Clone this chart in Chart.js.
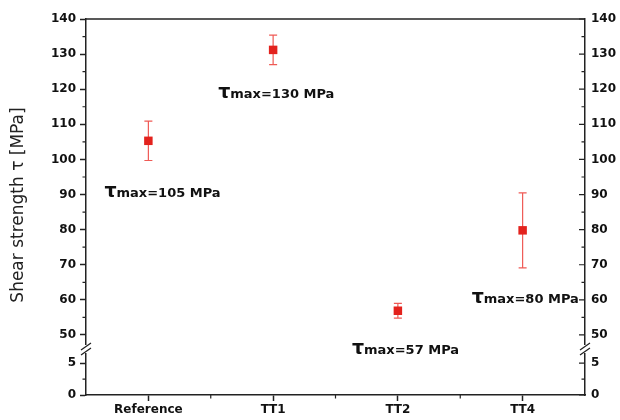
<!DOCTYPE html>
<html>
<head>
<meta charset="utf-8">
<script src="https://cdn.jsdelivr.net/npm/chart.js@4.4.1/dist/chart.umd.min.js"></script>
<style>
  body { margin: 0; background: #fff; }
  #wrap { width: 620px; height: 420px; }
</style>
</head>
<body>
<div id="wrap"><canvas id="shearChart"></canvas></div>
<script>
// values
const samples = ["Reference", "TT1", "TT2", "TT4"];
const shearMean = [105.3, 131.2, 56.9, 79.8];
const shearErr = [5.6, 4.2, 2.1, 10.7];
const tauMax = [105, 130, 57, 80];

// broken axis: lower part 0..7.2, upper part 46..140
const upperTicks = [50, 60, 70, 80, 90, 100, 110, 120, 130, 140];
const upperMinor = [55, 65, 75, 85, 95, 105, 115, 125, 135];
const lowerTicks = [0, 5];
const lowerMinor = [2.5];

// where the tau labels sit (px offset from category, value on upper axis)
const labelSpots = [
  { dx: -44, v: 90.7 },
  { dx: -55, v: 118.9 },
  { dx: -46, v: 46 },
  { dx: -51, v: 60.5 }
];

const AXIS = "#222";
const TXT = "#111";
const tickFont = { family: "DejaVu Sans", size: 12, weight: "bold" };

function setTicks(list) {
  return scale => { scale.ticks = list.map(v => ({ value: v })); };
}

function leftAxis(min, max, ticks, weight) {
  return {
    type: "linear", position: "left", stack: "left", stackWeight: weight,
    min: min, max: max,
    afterBuildTicks: setTicks(ticks),
    afterFit: s => { s.width = 86; },
    border: { display: true, color: AXIS, width: 1.5 },
    grid: { drawOnChartArea: false, tickLength: 6, color: AXIS, tickWidth: 1.5 },
    ticks: { padding: 4, color: TXT, font: tickFont }
  };
}

function rightAxis(min, max, ticks, weight) {
  return {
    type: "linear", position: "right", stack: "right", stackWeight: weight,
    min: min, max: max,
    afterBuildTicks: setTicks(ticks),
    afterFit: s => { s.width = 35; },
    border: { display: true, color: AXIS, width: 1.5 },
    grid: { drawOnChartArea: false, drawTicks: false },
    ticks: { padding: 6, color: TXT, font: tickFont }
  };
}

const errorBars = {
  id: "errorBars",
  beforeDatasetsDraw(chart) {
    const { ctx, scales: { x, y } } = chart;
    ctx.save();
    ctx.strokeStyle = "#ef5a55";
    ctx.lineWidth = 1.2;
    shearMean.forEach((v, i) => {
      const px = x.getPixelForValue(i);
      const top = y.getPixelForValue(v + shearErr[i]);
      const bot = y.getPixelForValue(v - shearErr[i]);
      ctx.beginPath();
      ctx.moveTo(px, top); ctx.lineTo(px, bot);
      ctx.moveTo(px - 4, top); ctx.lineTo(px + 4, top);
      ctx.moveTo(px - 4, bot); ctx.lineTo(px + 4, bot);
      ctx.stroke();
    });
    ctx.restore();
  }
};

const decorations = {
  id: "decorations",
  afterDraw(chart) {
    const { ctx, chartArea: a, scales } = chart;
    const x = scales.x, y = scales.y, yLow = scales.yLow;
    ctx.save();
    ctx.strokeStyle = AXIS;
    ctx.lineWidth = 1.5;
    // top frame line
    ctx.beginPath();
    ctx.moveTo(a.left, a.top); ctx.lineTo(a.right, a.top);
    ctx.stroke();

    ctx.lineWidth = 1.2;
    ctx.beginPath();
    // minor ticks, left outward / right inward
    const minors = upperMinor.map(v => y.getPixelForValue(v))
      .concat(lowerMinor.map(v => yLow.getPixelForValue(v)));
    minors.forEach(py => {
      ctx.moveTo(a.left - 3.5, py); ctx.lineTo(a.left, py);
      ctx.moveTo(a.right - 3.5, py); ctx.lineTo(a.right, py);
    });
    // right major ticks inward
    const majors = upperTicks.map(v => y.getPixelForValue(v))
      .concat(lowerTicks.map(v => yLow.getPixelForValue(v)));
    majors.forEach(py => {
      ctx.moveTo(a.right - 6, py); ctx.lineTo(a.right, py);
    });
    // x minor ticks between categories
    for (let i = 1; i < samples.length; i++) {
      const px = x.getPixelForValue(i - 0.5);
      ctx.moveTo(px, a.bottom); ctx.lineTo(px, a.bottom + 3.5);
    }
    ctx.stroke();

    // axis break marks
    const by = y.bottom;
    [a.left, a.right].forEach(bx => {
      ctx.fillStyle = "#fff";
      ctx.fillRect(bx - 2, by - 4, 4, 8);
      ctx.strokeStyle = AXIS;
      ctx.lineWidth = 1.3;
      ctx.beginPath();
      ctx.moveTo(bx - 5, by + 1); ctx.lineTo(bx + 5, by - 6);
      ctx.moveTo(bx - 5, by + 6); ctx.lineTo(bx + 5, by - 1);
      ctx.stroke();
    });

    // tau max labels
    ctx.fillStyle = TXT;
    ctx.textBaseline = "alphabetic";
    ctx.textAlign = "left";
    tauMax.forEach((t, i) => {
      const px = x.getPixelForValue(i) + labelSpots[i].dx;
      const py = y.getPixelForValue(labelSpots[i].v) + 5;
      ctx.font = "bold 19px 'DejaVu Sans'";
      ctx.fillText("\u03c4", px, py);
      const w = ctx.measureText("\u03c4").width;
      ctx.font = "bold 13px 'DejaVu Sans'";
      ctx.fillText("max=" + t + " MPa", px + w, py);
    });

    // y axis title
    ctx.save();
    ctx.translate(19, 205);
    ctx.rotate(-Math.PI / 2);
    ctx.textAlign = "center";
    ctx.textBaseline = "middle";
    ctx.font = "17px 'DejaVu Sans'";
    ctx.fillStyle = "#222";
    ctx.fillText("Shear strength \u03c4 [MPa]", 0, 0);
    ctx.restore();

    ctx.restore();
  }
};

new Chart(document.getElementById("shearChart"), {
  type: "line",
  data: {
    labels: samples,
    datasets: [{
      label: "Shear strength",
      data: shearMean,
      yAxisID: "y",
      showLine: false,
      pointStyle: "rect",
      pointRadius: 6,
      pointBorderWidth: 0,
      backgroundColor: "#e3221d",
      borderColor: "#e3221d"
    }]
  },
  options: {
    responsive: true,
    maintainAspectRatio: false,
    animation: false,
    layout: { padding: { top: 19, left: 0, right: 0, bottom: 0 } },
    plugins: { legend: { display: false }, tooltip: { enabled: false } },
    scales: {
      x: {
        type: "category",
        offset: true,
        afterFit: s => { s.height = 25; },
        border: { display: true, color: AXIS, width: 1.5 },
        grid: { drawOnChartArea: false, tickLength: 6, color: AXIS, tickWidth: 1.5 },
        ticks: { padding: 2, color: TXT, font: tickFont }
      },
      yLow: leftAxis(0, 7.2, lowerTicks, 46),
      y: leftAxis(46, 140, upperTicks, 330),
      yR: rightAxis(46, 140, upperTicks, 330),
      yLowR: rightAxis(0, 7.2, lowerTicks, 46)
    }
  },
  plugins: [errorBars, decorations]
});
</script>
</body>
</html>
